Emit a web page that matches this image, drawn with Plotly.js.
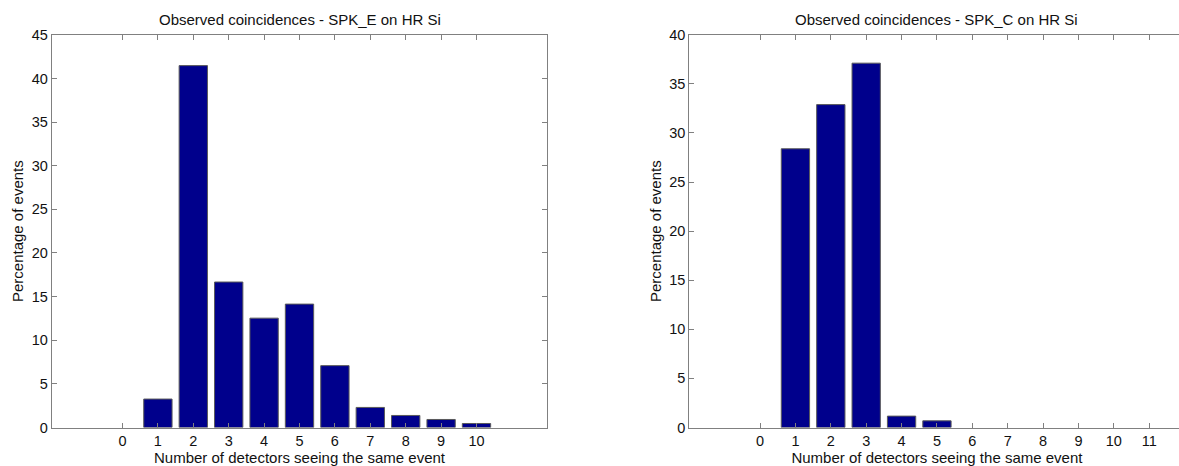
<!DOCTYPE html>
<html>
<head>
<meta charset="utf-8">
<script src="https://cdn.plot.ly/plotly-3.0.1.min.js"></script>
<style>
  html, body { margin: 0; padding: 0; overflow: hidden; background: #fff; }
  #chart { width: 1185px; height: 466px; }
</style>
</head>
<body>
<div id="chart"></div>
<script>
// ---- data ----
const detectorsE = [0, 1, 2, 3, 4, 5, 6, 7, 8, 9, 10];
const percentE   = [0, 3.26, 41.47, 16.67, 12.53, 14.14, 7.09, 2.30, 1.38, 0.92, 0.46];

const detectorsC = [0, 1, 2, 3, 4, 5, 6, 7, 8, 9, 10, 11];
const percentC   = [0, 28.39, 32.89, 37.11, 1.16, 0.68, 0, 0, 0, 0, 0, 0];

const yTicksE = [0, 5, 10, 15, 20, 25, 30, 35, 40, 45];
const yTicksC = [0, 5, 10, 15, 20, 25, 30, 35, 40];

const titleE = 'Observed coincidences - SPK_E on HR Si';
const titleC = 'Observed coincidences - SPK_C on HR Si';
const xLabel = 'Number of detectors seeing the same event';
const yLabel = 'Percentage of events';

// ---- styling ----
const W = 1185, H = 466;
const FONT = 'Liberation Sans, Arial, Helvetica, sans-serif';
const axisGray = '#808080';
const barColor = 'rgb(0,0,140)';
const yDom = [(H - 427.5) / H, (H - 34.8) / H];

function xAxis(domain, ticks) {
  return {
    domain: domain, range: [-2, 12], tickmode: 'array', tickvals: ticks,
    ticks: 'inside', ticklen: 5, tickcolor: axisGray, tickwidth: 1,
    showline: true, linecolor: axisGray, linewidth: 1, mirror: 'ticks',
    showgrid: false, zeroline: false, fixedrange: true,
    tickfont: { family: FONT, size: 14.5, color: '#111' },
    title: { text: xLabel, font: { family: FONT, size: 15, color: '#111' }, standoff: 2 }
  };
}
function yAxis(range, ticks) {
  return {
    domain: yDom, range: range, tickmode: 'array', tickvals: ticks,
    ticks: 'inside', ticklen: 5, tickcolor: axisGray, tickwidth: 1,
    showline: true, linecolor: axisGray, linewidth: 1, mirror: 'ticks',
    showgrid: false, zeroline: false, fixedrange: true,
    tickfont: { family: FONT, size: 14.5, color: '#111' },
    title: { text: yLabel, font: { family: FONT, size: 15, color: '#111' }, standoff: 4 }
  };
}

// zero-height bars get no outline (they are invisible in the original)
const edgeWidths = vals => vals.map(v => (v > 0 ? 1 : 0));

const traces = [
  { type: 'bar', x: detectorsE, y: percentE, width: 0.8, xaxis: 'x', yaxis: 'y',
    marker: { color: barColor, line: { color: '#5a5a5a', width: edgeWidths(percentE) } }, hoverinfo: 'x+y' },
  { type: 'bar', x: detectorsC, y: percentC, width: 0.8, xaxis: 'x2', yaxis: 'y2',
    marker: { color: barColor, line: { color: '#5a5a5a', width: edgeWidths(percentC) } }, hoverinfo: 'x+y' }
];

const layout = {
  width: W, height: H, autosize: false,
  margin: { l: 0, r: 0, t: 0, b: 0 },
  paper_bgcolor: '#fff', plot_bgcolor: '#fff',
  showlegend: false,
  font: { family: FONT, color: '#111' },
  xaxis: xAxis([51.7 / W, 547.3 / W], detectorsE),
  yaxis: yAxis([0, 45], yTicksE),
  xaxis2: Object.assign(xAxis([689.3 / W, 1184.6 / W], detectorsC), { anchor: 'y2' }),
  yaxis2: Object.assign(yAxis([0, 40], yTicksC), { anchor: 'x2' }),
  annotations: [
    { text: titleE, xref: 'x domain', x: 0.5, yref: 'paper', y: (H - 19) / H,
      xanchor: 'center', yanchor: 'middle', showarrow: false,
      font: { family: FONT, size: 15, color: '#111' } },
    { text: titleC, xref: 'x2 domain', x: 0.5, yref: 'paper', y: (H - 19) / H,
      xanchor: 'center', yanchor: 'middle', showarrow: false,
      font: { family: FONT, size: 15, color: '#111' } }
  ]
};
layout.xaxis.anchor = 'y';
layout.yaxis.anchor = 'x';

Plotly.newPlot('chart', traces, layout, { displayModeBar: false, staticPlot: true });
</script>
</body>
</html>
